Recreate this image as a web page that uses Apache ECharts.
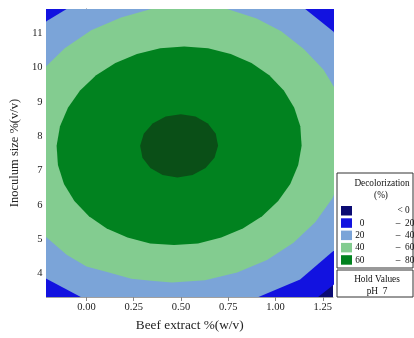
<!DOCTYPE html>
<html>
<head>
<meta charset="utf-8">
<script src="https://cdn.jsdelivr.net/npm/echarts@6/dist/echarts.min.js"></script>
<style>html,body{margin:0;padding:0;background:#fff;}#c{width:414px;height:338px;}</style>
</head>
<body>
<div id="c"></div>
<script>
// Axis ranges and tick labels
const xRange = [-0.212, 1.304];
const yRange = [3.32, 11.70];
const xTicks = [0, 0.25, 0.5, 0.75, 1, 1.25];
const yTicks = [4, 5, 6, 7, 8, 9, 10, 11];

// Contour boundaries [Beef extract, Inoculum size]
const contour0 = [[1.736,7.72],[1.661,9.85],[1.408,11.66],[1.015,12.86],[0.543,13.29],[0.062,12.86],[-0.354,11.66],[-0.641,9.85],[-0.756,7.72],[-0.681,5.59],[-0.428,3.78],[-0.035,2.58],[0.438,2.15],[0.918,2.58],[1.138,3.09],[1.225,3.32],[1.304,3.66],[1.334,3.78],[1.497,4.63],[1.621,5.59]];
const contour20 = [[1.574,7.72],[1.562,8.67],[1.509,9.57],[1.417,10.41],[1.304,11.05],[1.157,11.70],[0.947,12.19],[0.746,12.47],[0.536,12.56],[0.323,12.47],[0.117,12.19],[-0.105,11.70],[-0.212,11.34],[-0.386,10.41],[-0.494,9.57],[-0.564,8.67],[-0.594,7.72],[-0.582,6.78],[-0.529,5.87],[-0.437,5.03],[-0.309,4.30],[-0.212,3.85],[-0.03,3.32],[0.234,2.97],[0.444,2.88],[0.657,2.97],[0.91,3.32],[1.13,3.83],[1.304,4.65],[1.366,5.03],[1.474,5.87],[1.544,6.78]];
const contour40 = [[1.383,7.72],[1.373,8.50],[1.329,9.25],[1.253,9.94],[1.148,10.54],[1.03,11.05],[0.90,11.42],[0.745,11.70],[0.54,11.80],[0.342,11.70],[0.183,11.45],[0.025,11.08],[-0.115,10.56],[-0.231,9.94],[-0.321,9.25],[-0.378,8.50],[-0.403,7.72],[-0.393,6.94],[-0.349,6.19],[-0.273,5.45],[-0.212,5.06],[-0.105,4.55],[0.0,4.21],[0.114,4.04],[0.237,3.85],[0.342,3.79],[0.452,3.74],[0.627,3.81],[0.797,4.03],[0.955,4.40],[1.095,4.90],[1.211,5.50],[1.301,6.19],[1.358,6.94]];
const contour60 = [[1.138,7.72],[1.131,8.29],[1.099,8.83],[1.044,9.33],[0.967,9.77],[0.873,10.13],[0.763,10.39],[0.643,10.56],[0.517,10.61],[0.390,10.56],[0.267,10.39],[0.153,10.13],[0.051,9.77],[-0.034,9.33],[-0.098,8.83],[-0.140,8.29],[-0.158,7.72],[-0.151,7.16],[-0.119,6.61],[-0.064,6.11],[0.013,5.67],[0.107,5.31],[0.217,5.05],[0.337,4.88],[0.463,4.83],[0.590,4.88],[0.713,5.05],[0.827,5.31],[0.929,5.67],[1.014,6.11],[1.078,6.61],[1.120,7.16]];
const contour80 = [[0.696,7.72],[0.684,8.07],[0.642,8.37],[0.577,8.57],[0.499,8.64],[0.419,8.57],[0.350,8.37],[0.303,8.07],[0.284,7.72],[0.296,7.37],[0.338,7.07],[0.403,6.87],[0.481,6.80],[0.561,6.87],[0.630,7.07],[0.677,7.37]];

// Legend levels
const legendTitle = ['Decolorization', '(%)'];
const legendLow = ['', '0', '20', '40', '60'];
const legendHigh = ['0', '20', '40', '60', '80'];
const holdTitle = 'Hold Values';
const holdText = 'pH  7';
const levelColors = ['#0B0B73', '#1212E0', '#7BA4D8', '#83CC90', '#01821F', '#0A4F17'];

const FONT = 'Liberation Serif';
const chart = echarts.init(document.getElementById('c'), null, {renderer: 'canvas'});

function contourSeries(points, color, smooth) {
  return {
    type: 'custom',
    clip: true,
    silent: true,
    animation: false,
    data: points,
    renderItem: function (params, api) {
      if (params.dataIndex !== 0) return null;
      const pts = points.map(p => api.coord(p));
      return {type: 'polygon', shape: {points: pts, smooth: smooth}, style: {fill: color, stroke: null}};
    }
  };
}

const LF = '9.3px "' + FONT + '"';
const graphics = [];
graphics.push({type: 'rect', shape: {x: 337, y: 173, width: 76, height: 95}, style: {fill: '#fff', stroke: '#333', lineWidth: 1}});
graphics.push({type: 'text', x: 382, y: 184, style: {text: legendTitle[0], font: LF, fill: '#111', align: 'center', verticalAlign: 'middle'}});
graphics.push({type: 'text', x: 381, y: 196, style: {text: legendTitle[1], font: LF, fill: '#111', align: 'center', verticalAlign: 'middle'}});
for (let i = 0; i < legendHigh.length; i++) {
  const y = 206 + i * 12.3;
  graphics.push({type: 'rect', shape: {x: 341, y: y, width: 11, height: 9.5}, style: {fill: levelColors[i]}});
  const cy = y + 5;
  if (i === 0) {
    graphics.push({type: 'text', x: 400, y: cy, style: {text: '<', font: LF, fill: '#111', align: 'center', verticalAlign: 'middle'}});
  } else {
    graphics.push({type: 'text', x: 364.5, y: cy, style: {text: legendLow[i], font: LF, fill: '#111', align: 'right', verticalAlign: 'middle'}});
    graphics.push({type: 'text', x: 398, y: cy, style: {text: '\u2013', font: LF, fill: '#111', align: 'center', verticalAlign: 'middle'}});
  }
  graphics.push({type: 'text', x: 405, y: cy, style: {text: legendHigh[i], font: LF, fill: '#111', align: 'left', verticalAlign: 'middle'}});
}
graphics.push({type: 'rect', shape: {x: 337, y: 270, width: 76, height: 27}, style: {fill: '#fff', stroke: '#333', lineWidth: 1}});
graphics.push({type: 'text', x: 377, y: 280, style: {text: holdTitle, font: LF, fill: '#111', align: 'center', verticalAlign: 'middle'}});
graphics.push({type: 'text', x: 377, y: 292, style: {text: holdText, font: LF, fill: '#111', align: 'center', verticalAlign: 'middle'}});

const axisLineStyle = {color: '#A0A0A0', width: 1};
const option = {
  animation: false,
  backgroundColor: '#fff',
  grid: {left: 45, right: 81, top: 9, bottom: 41, show: true, backgroundColor: levelColors[0], borderWidth: 0},
  xAxis: [{
    type: 'value', min: xRange[0], max: xRange[1], position: 'bottom',
    name: 'Beef extract %(w/v)', nameLocation: 'middle', nameGap: 22,
    nameTextStyle: {fontFamily: FONT, fontSize: 13.3, color: '#222'},
    axisLine: {show: true, lineStyle: axisLineStyle},
    axisTick: {show: true, length: 4, customValues: xTicks, lineStyle: {color: '#888'}},
    axisLabel: {customValues: xTicks, formatter: v => v.toFixed(2), fontFamily: FONT, fontSize: 10.5, color: '#222', margin: 5},
    splitLine: {show: false}
  }, {
    type: 'value', min: xRange[0], max: xRange[1], position: 'top',
    axisLine: {show: true, lineStyle: axisLineStyle}, axisTick: {show: false}, axisLabel: {show: false}, splitLine: {show: false}
  }],
  yAxis: [{
    type: 'value', min: yRange[0], max: yRange[1], position: 'left',
    name: 'Inoculum size %(v/v)', nameLocation: 'middle', nameGap: 22,
    nameTextStyle: {fontFamily: FONT, fontSize: 12.5, color: '#222'},
    axisLine: {show: true, lineStyle: axisLineStyle},
    axisTick: {show: true, length: 4, customValues: yTicks, lineStyle: {color: '#888'}},
    axisLabel: {customValues: yTicks, fontFamily: FONT, fontSize: 10.5, color: '#222', margin: 4},
    splitLine: {show: false}
  }, {
    type: 'value', min: yRange[0], max: yRange[1], position: 'right',
    axisLine: {show: true, lineStyle: axisLineStyle}, axisTick: {show: false}, axisLabel: {show: false}, splitLine: {show: false}
  }],
  series: [
    contourSeries(contour0, levelColors[1], 0),
    contourSeries(contour20, levelColors[2], 0),
    contourSeries(contour40, levelColors[3], 0),
    contourSeries(contour60, levelColors[4], 0),
    contourSeries(contour80, levelColors[5], 0)
  ],
  graphic: graphics
};
chart.setOption(option);
</script>
</body>
</html>
